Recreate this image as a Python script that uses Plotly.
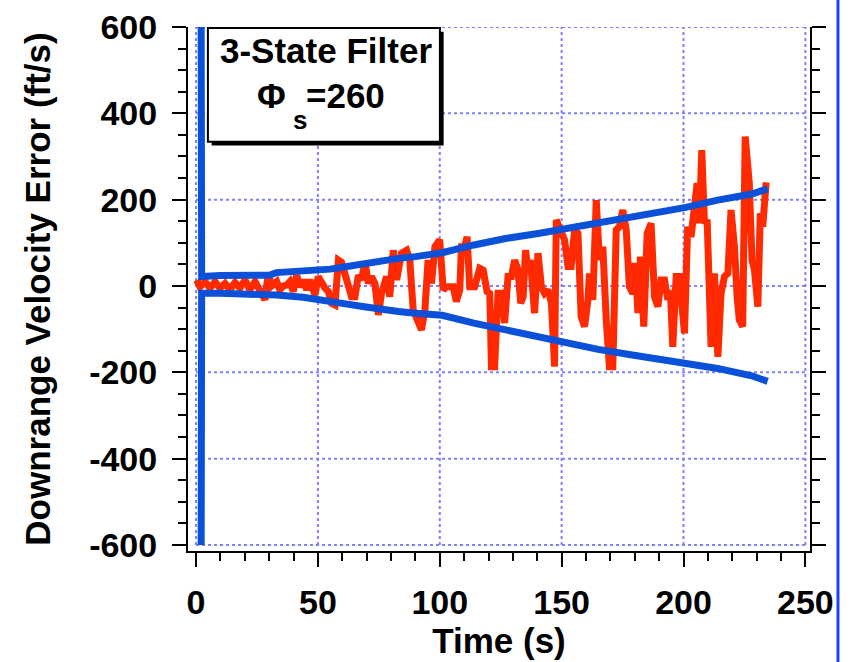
import plotly.graph_objects as go

# ---------------- data ----------------
X_TICKS = [0, 50, 100, 150, 200, 250]
Y_TICKS = [-600, -400, -200, 0, 200, 400, 600]

err_t = [0.3, 1.6, 3.7, 5.7, 7.8, 9.8, 11.9, 13.9, 16.0, 18.0, 20.1, 22.1, 24.2, 26.2, 28.3, 29.6,
         31.0, 33.1, 34.4, 35.8, 37.2, 38.5, 39.9, 41.3, 42.6, 44.0, 45.4, 46.7, 48.8, 50.1,
         51.5, 52.9, 54.3, 55.6, 57.0, 58.4, 59.7, 61.1, 62.5, 63.8, 65.2, 66.6, 67.9, 69.3,
         70.7, 72.0, 73.4, 74.8, 76.1, 77.5, 78.2, 79.5, 80.9, 82.3, 84.3, 86.4, 87.7, 89.1,
         90.5, 92.5, 93.9, 95.2, 96.6, 98.0, 100.0, 101.4, 102.7, 105.5, 106.8, 108.2, 108.9,
         110.2, 111.2, 112.3, 114.3, 116.4, 117.8, 119.4, 120.5, 121.2, 122.5, 123.9, 125.3,
         126.6, 128.0, 129.4, 130.7, 132.1, 133.2, 134.2, 135.2, 136.2, 137.2, 138.9, 140.3,
         141.7, 143.0, 144.4, 145.8, 146.4, 147.1, 147.8, 149.2, 151.2, 152.6, 153.9, 155.3,
         156.7, 158.0, 159.4, 160.8, 161.4, 162.8, 164.2, 165.5, 166.9, 168.3, 169.6, 171.0,
         172.4, 173.7, 175.1, 176.5, 177.8, 179.2, 180.2, 181.3, 182.3, 183.7, 185.1, 186.7,
         188.1, 189.5, 190.8, 192.2, 193.6, 194.6, 195.6, 197.0, 198.3, 200.4, 201.7, 203.1,
         204.5, 205.6, 206.5, 207.5, 208.6, 209.7, 211.3, 212.7, 214.1, 215.4, 216.8, 218.2,
         219.5, 220.9, 222.0, 222.9, 224.3, 225.3, 227.0, 228.1, 229.1, 230.5, 231.5, 232.5,
         233.9]
err_v = [14, -2, 10, -5, 10, -5, 6, -9, 8, -5, 14, -9, 10, -9, -32, 29,
         0, 10, -9, 0, 2, 10, -13, 25, -2, 14, -9, 14, -21, 22,
         6, -5, -13, -40, -44, 60, 55, 29, -9, -25, -25, 25, 14, 56,
         6, 22, 6, -67, -17, 14, 22, -25, 83, 14, 76, 83, 60, -56,
         -79, -102, -56, 60, 6, 91, 107, -9, -2, -2, -36, -9, 91,
         91, 114, -2, -2, 41, 37, -13, -17, -187, -187, -17, -17,
         -86, 22, 22, 60, 37, -40, -25, 83, 37, 60, -63, 76,
         -2, -17, -9, -40, -187, -187, 153, 130, 107, 45, 45, 130,
         122, -71, -94, -32, 29, -32, 199, 60, 91, -79, -187, -187,
         130, 137, 176, 130, -2, -17, 53, -63, 68, -94, 122, 145,
         -25, -48, 14, 14, -32, -9, -141, 22, 22, -110, 137, 114,
         168, 238, 145, 315, 145, 153, -141, 29, -164, -17, 22, 29,
         176, 91, -25, -79, -94, 346, 238, 60, 37, -48, 168, 137,
         240]

bound_t = [2.1, 2.3, 10, 20, 30, 33, 44, 50, 55, 62, 69, 76, 83, 90, 95, 101,
           114, 127, 141, 150, 165, 179, 192, 201, 214, 228, 234.5]
upper_v = [600, 22, 24, 25, 25, 31, 35, 36, 39, 45, 52, 56, 64, 68, 72, 77,
           95, 110, 122, 131, 149, 161, 172, 182, 199, 213, 225]
lower_v = [-600, -17, -17, -17, -18, -21, -26, -30, -35, -42, -48, -55, -59, -63, -66, -68,
           -86, -102, -117, -129, -147, -160, -171, -178, -191, -208, -221]

# ---------------- style ----------------
FONT = "Liberation Sans"
RED = "#ff2a00"
BLUE = "#0a50d8"
GRID = "#7f7fff"

fig = go.Figure()
fig.add_trace(go.Scatter(x=err_t, y=err_v, mode="lines",
                         line=dict(color=RED, width=7), showlegend=False))
fig.add_trace(go.Scatter(x=bound_t, y=upper_v, mode="lines",
                         line=dict(color=BLUE, width=7), showlegend=False))
fig.add_trace(go.Scatter(x=bound_t, y=lower_v, mode="lines",
                         line=dict(color=BLUE, width=7), showlegend=False))

shapes = []
for xv in X_TICKS:
    shapes.append(dict(type="line", xref="x", yref="y", x0=xv, x1=xv,
                       y0=Y_TICKS[0], y1=Y_TICKS[-1], layer="below",
                       line=dict(color=GRID, width=2, dash="dot")))
for yv in Y_TICKS:
    shapes.append(dict(type="line", xref="x", yref="y", x0=X_TICKS[0], x1=X_TICKS[-1],
                       y0=yv, y1=yv, layer="below",
                       line=dict(color=GRID, width=2, dash="dot")))

# text box (with shadow), in paper coords
bx0, bx1, by0, by1 = 0.032, 0.405, 0.781, 0.998
sx, sy = 0.006, 0.007
shapes.append(dict(type="rect", xref="paper", yref="paper", x0=bx0 + sx, x1=bx1 + sx,
                   y0=by0 - sy, y1=by1 - sy, fillcolor="black", line=dict(width=0)))
shapes.append(dict(type="rect", xref="paper", yref="paper", x0=bx0, x1=bx1,
                   y0=by0, y1=by1, fillcolor="white", line=dict(color="black", width=2)))
# stray blue border line at the right edge of the picture
shapes.append(dict(type="line", xref="paper", yref="paper", x0=1.045, x1=1.045,
                   y0=-0.3, y1=1.1, line=dict(color="#1f3fff", width=3)))

def ann(text, x, y, size):
    return dict(text=text, xref="paper", yref="paper", x=x, y=y, showarrow=False,
                xanchor="center", yanchor="middle",
                font=dict(family=FONT, size=size, color="black"))

annotations = [
    ann("<b>3-State Filter</b>", 0.222, 0.956, 35),
    ann("<b>Φ</b>", 0.135, 0.870, 35),
    ann("<b>s</b>", 0.180, 0.823, 26),
    ann("<b>=260</b>", 0.254, 0.870, 35),
]

fig.update_layout(
    width=850, height=662,
    margin=dict(l=188, r=40, t=27, b=111),
    paper_bgcolor="white", plot_bgcolor="white",
    shapes=shapes, annotations=annotations,
    font=dict(family=FONT, color="black"),
    xaxis=dict(range=[-3.3, 251.9], tickvals=X_TICKS, ticktext=[str(v) for v in X_TICKS],
               automargin=False,
               showgrid=False, zeroline=False, showline=True, linecolor="black", linewidth=2,
               ticks="outside", ticklen=14, tickwidth=2, tickcolor="black", mirror=False,
               ticklabelstandoff=6,
               minor=dict(dtick=10, ticks="outside", ticklen=8, tickwidth=2, tickcolor="black",
                          showgrid=False),
               tickfont=dict(family=FONT, size=34, color="black", weight="bold"),
               title=dict(text="<b>Time (s)</b>", font=dict(family=FONT, size=35, color="black"),
                          standoff=4)),
    yaxis=dict(range=[-614, 600], tickvals=Y_TICKS, ticktext=[str(v) for v in Y_TICKS],
               automargin=False,
               showgrid=False, zeroline=False, showline=True, linecolor="black", linewidth=2,
               ticks="outside", ticklen=14, tickwidth=2, tickcolor="black", mirror="ticks",
               ticklabelstandoff=8,
               minor=dict(dtick=50, ticks="outside", ticklen=8, tickwidth=2, tickcolor="black",
                          showgrid=False),
               tickfont=dict(family=FONT, size=34, color="black", weight="bold"),
               title=dict(text="<b>Downrange Velocity Error (ft/s)</b>",
                          font=dict(family=FONT, size=35, color="black"), standoff=28)),
)

fig.write_html("out.html")
